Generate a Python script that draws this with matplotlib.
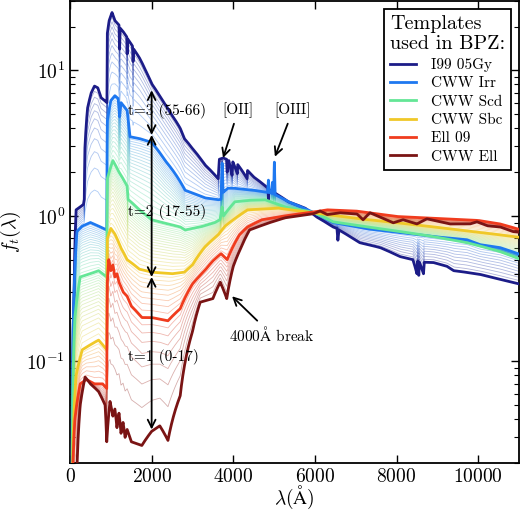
import numpy as np
import matplotlib
matplotlib.use('Agg')
import matplotlib.pyplot as plt
from matplotlib.colors import to_rgb

plt.rcParams['font.family'] = ['cmr10', 'DejaVu Serif']
plt.rcParams['mathtext.fontset'] = 'cm'
plt.rcParams['axes.formatter.use_mathtext'] = True
plt.rcParams['axes.unicode_minus'] = False

# --- templates (wavelength in A, flux normalised ~1 at 6000A) ---
lam_i99 = [50, 100, 150, 250, 330, 350, 365, 430, 520, 600, 680, 760, 850, 905, 915, 960, 1030,
           1100, 1200, 1215, 1230, 1300, 1390, 1400, 1410, 1530, 1545, 1560, 1700, 1850, 2000,
           2150, 2300, 2500, 2700, 2800, 3000, 3300, 3630, 3660, 3750, 3835, 3850, 3890, 3970,
           3990, 4100, 4110, 4340, 4350, 4500, 4850, 4861, 4870, 5350, 5760, 6050, 6440, 6540,
           6563, 6590, 6860, 7100, 7600, 8085, 8400, 8500, 8520, 8545, 8560, 8660, 8680, 8900,
           9235, 9400, 9555, 10045, 10535, 11050]
f_i99 = [0.01, 0.3, 1.1, 1.15, 1.2, 1.3, 2.9, 5.5, 7.0, 7.8, 7.6, 6.5, 6.2, 6.0, 18, 22, 25,
         22, 20.5, 14, 19.5, 18.5, 17, 13, 16.5, 14.7, 11.5, 14, 12.2, 10, 8.1,
         7.0, 6.0, 4.9, 4.0, 3.4, 2.9, 2.25, 1.8, 2.45, 2.5, 2.45, 2.0, 2.4, 1.9,
         2.35, 1.95, 2.25, 1.8, 2.05, 1.85, 1.55, 1.3, 1.52, 1.25, 1.13, 0.98, 0.84, 0.82,
         0.68, 0.8, 0.72, 0.654, 0.605, 0.525, 0.5, 0.40, 0.49, 0.39, 0.48, 0.40, 0.48, 0.478,
         0.45, 0.42, 0.415, 0.396, 0.366, 0.338]

lam_irr = [50, 100, 170, 300, 500, 700, 900, 915, 1000, 1100, 1180, 1215, 1250, 1400, 1440, 1470,
           1700, 2000, 2330, 2820, 3300, 3630, 3700, 3727, 3750, 3870, 4000, 4500, 4840, 4861,
           4880, 4940, 4959, 4975, 4990, 5007, 5025, 5350, 5950, 6440, 7270, 8085, 8900, 9720,
           10045, 10535, 11050]
f_irr = [0.01, 0.3, 0.78, 0.85, 0.9, 0.85, 0.8, 4.5, 6.2, 6.7, 6.4, 4.8, 6.0, 5.3, 4.2, 3.5,
         3.4, 3.2, 2.4, 1.5, 1.33, 1.29, 1.3, 2.3, 1.45, 1.55, 1.55, 1.5, 1.45, 1.76,
         1.45, 1.43, 1.7, 1.43, 1.42, 2.34, 1.4, 1.25, 1.06, 0.9, 0.815, 0.765, 0.72, 0.686,
         0.634, 0.605, 0.54]

lam_scd = [50, 120, 250, 500, 700, 900, 915, 1050, 1200, 1400, 1420, 1700, 2000, 2400, 2700,
           2820, 3200, 3550, 3675, 3727, 3760, 4040, 4400, 4780, 5270, 5950, 6440, 7270, 8085,
           8900, 9725, 10535, 11050]
f_scd = [0.01, 0.2, 0.38, 0.4, 0.42, 0.38, 1.8, 2.4, 2.0, 1.6, 1.3, 1.1, 0.94, 0.88, 0.84,
         0.8, 0.84, 0.9, 0.94, 1.15, 1.0, 1.25, 1.28, 1.29, 1.15, 1.06, 0.91, 0.84, 0.78,
         0.72, 0.654, 0.568, 0.5]

lam_sbc = [50, 150, 300, 500, 700, 900, 915, 1000, 1100, 1250, 1400, 1700, 2000, 2500, 2800,
           3000, 3300, 3630, 3800, 4000, 4350, 5100, 5950, 7100, 8900, 10535, 11050]
f_sbc = [0.01, 0.08, 0.12, 0.13, 0.14, 0.12, 0.7, 0.82, 0.75, 0.6, 0.5, 0.43, 0.41, 0.4, 0.41,
         0.46, 0.61, 0.74, 0.85, 0.94, 1.1, 1.13, 1.05, 0.955, 0.84, 0.74, 0.71]

lam_ell09 = [50, 120, 250, 400, 600, 800, 900, 915, 950, 1000, 1050, 1100, 1150, 1200, 1300,
             1400, 1500, 1760, 2000, 2400, 2700, 3000, 3300, 3500, 3700, 3850, 4000, 4150, 4350,
             4700, 5270, 5950, 6300, 7000, 8000, 9000, 10000, 10535, 11050]
f_ell09 = [0.01, 0.04, 0.07, 0.075, 0.07, 0.07, 0.065, 0.35, 0.5, 0.42, 0.46, 0.38, 0.4, 0.35,
           0.3, 0.28, 0.24, 0.2, 0.2, 0.19, 0.23, 0.34, 0.42, 0.49, 0.55, 0.5, 0.62, 0.74, 0.84,
           0.94, 1.0, 1.06, 1.1, 1.08, 0.99, 0.96, 0.93, 0.88, 0.8]

lam_ell = [150, 250, 370, 500, 700, 860, 900, 980, 1050, 1100, 1150, 1200, 1250, 1300, 1350,
           1400, 1500, 1760, 2000, 2200, 2400, 2700, 3000, 3190, 3500, 3680, 3840, 4000, 4160,
           4400, 4900, 5270, 5950, 6125, 6300, 6610, 7030, 7180, 7350, 7600, 7920, 8160, 8500,
           8745, 9065, 9310, 9800, 9970, 10215, 10535, 10850, 11050]
f_ell = [0.01, 0.05, 0.078, 0.07, 0.062, 0.05, 0.028, 0.053, 0.042, 0.047, 0.035, 0.044, 0.032,
         0.038, 0.03, 0.034, 0.028, 0.0264, 0.033, 0.036, 0.0286, 0.058, 0.16, 0.255, 0.27, 0.35,
         0.27, 0.45, 0.58, 0.8, 0.9, 0.97, 1.03, 1.08, 1.02, 1.05, 1.03, 0.94, 1.05, 0.98, 0.896,
         0.94, 0.88, 0.954, 0.91, 0.88, 0.88, 0.91, 0.855, 0.84, 0.78, 0.77]

# order from t=0 (Ell) to t=66 (starburst)
names = ['CWW Ell', 'Ell 09', 'CWW Sbc', 'CWW Scd', 'CWW Irr', 'I99 05Gy']
t_index = [0, 8, 17, 36, 55, 66]
colores = ['#7a1414', '#f03c1e', '#f0c828', '#64e696', '#1e78f0', '#1c1c88']
templates = [(lam_ell, f_ell), (lam_ell09, f_ell09), (lam_sbc, f_sbc),
             (lam_scd, f_scd), (lam_irr, f_irr), (lam_i99, f_i99)]

grid = np.unique(np.concatenate([np.linspace(20, 11200, 2200)] + [np.array(l) for l, _ in templates]))
flujos = [np.interp(grid, l, f) for l, f in templates]

fig = plt.figure(figsize=(5.2, 5.11), dpi=100)
ax = fig.add_axes([70/520, 48/511, 449/520, 462/511])

# interpolated templates between the anchors
for j in range(len(t_index) - 1):
    ka, kb = t_index[j], t_index[j+1]
    ca, cb = np.array(to_rgb(colores[j])), np.array(to_rgb(colores[j+1]))
    for k in range(ka + 1, kb):
        w = (k - ka) / (kb - ka)
        ax.plot(grid, (1-w)*flujos[j] + w*flujos[j+1], color=(1-w)*ca + w*cb, lw=0.6, alpha=0.35)

for j in reversed(range(len(names))):
    ax.plot(grid, flujos[j], color=colores[j], lw=2.0, label=names[j], zorder=3)

ax.set_yscale('log')
ax.set_xlim(0, 11000)
ax.set_ylim(0.02, 30)
ax.set_xticks([0, 2000, 4000, 6000, 8000, 10000])
ax.tick_params(which='both', direction='in', top=True, right=True, labelsize=14)
ax.tick_params(which='major', length=6, width=1)
ax.tick_params(which='minor', length=3.5, width=0.8)
for s in ax.spines.values():
    s.set_linewidth(1.3)

ax.set_xlabel(r'$\lambda(\mathrm{\AA})$', fontsize=14)
ax.xaxis.set_label_coords(0.5, -0.045)
ax.set_ylabel(r'$f_t(\lambda)$', fontsize=14)
ax.yaxis.set_label_coords(-0.105, 0.5)

# t ranges along 2000A
flechas = dict(arrowstyle='<->', color='k', lw=1.3, shrinkA=0, shrinkB=0, mutation_scale=14)
ax.annotate('', xy=(2000, 7.3), xytext=(2000, 3.6), arrowprops=flechas)
ax.annotate('', xy=(2000, 3.6), xytext=(2000, 0.38), arrowprops=flechas)
ax.annotate('', xy=(2000, 0.38), xytext=(2000, 0.034), arrowprops=flechas)
ax.text(1420, 5.3, 't=3 (55-66)', fontsize=11, va='center')
ax.text(1420, 1.065, 't=2 (17-55)', fontsize=11, va='center')
ax.text(1420, 0.107, 't=1 (0-17)', fontsize=11, va='center')

punta = dict(arrowstyle='->', color='k', lw=1.3, mutation_scale=14, shrinkB=0)
ax.annotate('[OII]', xy=(3750, 2.5), xytext=(4120, 5.3), ha='center', va='center',
            fontsize=11, arrowprops=punta)
ax.annotate('[OIII]', xy=(5020, 2.55), xytext=(5460, 5.3), ha='center', va='center',
            fontsize=11, arrowprops=punta)
ax.annotate(r'4000$\mathrm{\AA}$ break', xy=(3970, 0.28), xytext=(3900, 0.152), ha='left',
            va='center', fontsize=11, arrowprops=punta)

leg = ax.legend(loc='upper right', title='Templates\nused in BPZ:', fontsize=11,
                title_fontsize=14.5, fancybox=False, framealpha=1, edgecolor='k',
                handlelength=1.7, handletextpad=1.0, labelspacing=0.3, alignment='left',
                borderaxespad=0.5)
leg.get_frame().set_linewidth(1.3)

fig.savefig('out.png', dpi=100)
